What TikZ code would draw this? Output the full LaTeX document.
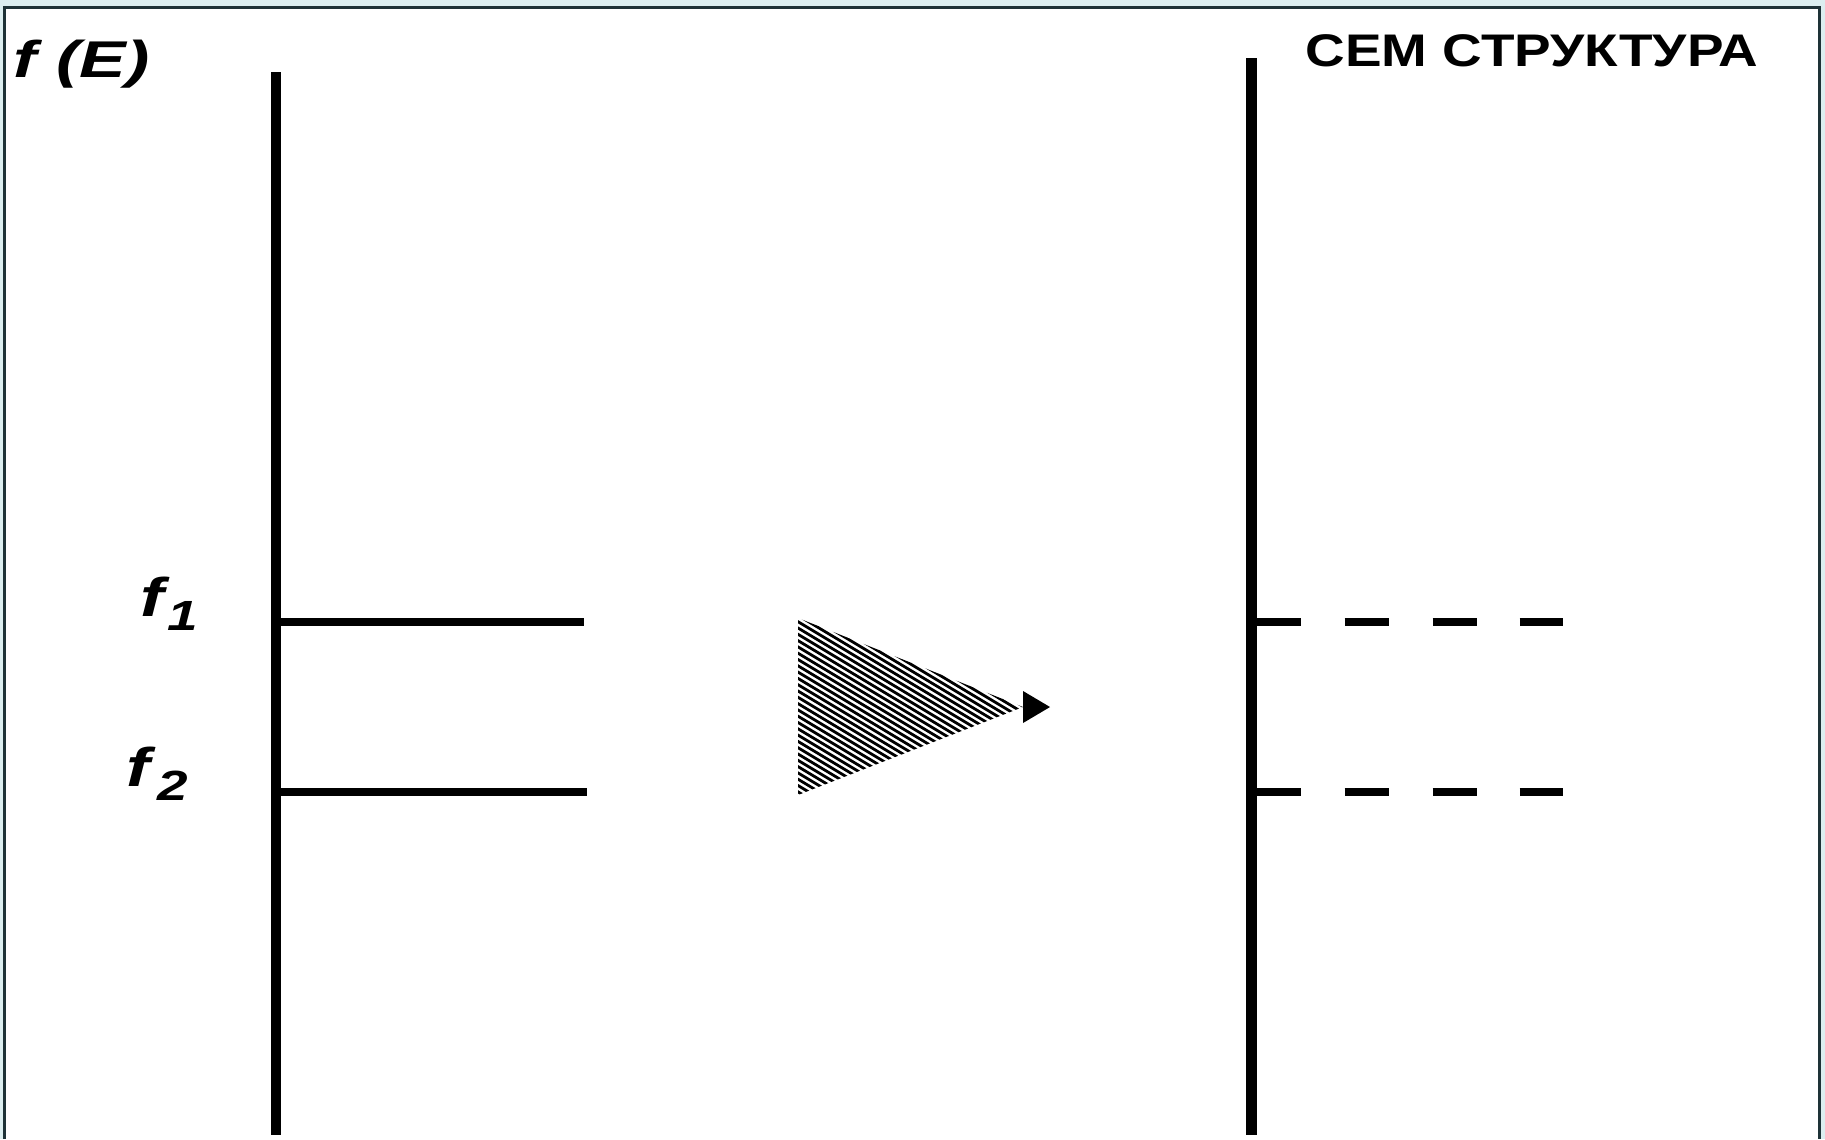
\documentclass[tikz,border=0pt]{standalone}
\usepackage{fontspec}
\setmainfont{Liberation Sans}
\usepackage{graphicx}
\definecolor{bgcyan}{RGB}{220,238,240}
\definecolor{framec}{RGB}{30,50,55}
\begin{document}
\begin{tikzpicture}[x=0.01cm,y=-0.01cm,
  axisline/.style={line width=2.9pt, black},
  levelline/.style={line width=2.3pt, black},
  dashlevel/.style={line width=2.3pt, black,
    dash pattern=on 13.94pt off 12.52pt on 12.52pt off 12.52pt on 12.52pt off 12.23pt on 12.8pt off 50pt},
  hatchline/.style={line width=0.8pt, black},
  labtext/.style={anchor=base west, inner sep=0pt, font=\bfseries\itshape\fontsize{15.5}{16}\selectfont},
  titletext/.style={anchor=base west, inner sep=0pt, font=\bfseries\fontsize{13}{14}\selectfont}]
\useasboundingbox (0,0) rectangle (1825,1139);
% background and frame
\fill[bgcyan] (0,0) rectangle (1825,1139);
\fill[white] (4,7) rectangle (1820,1139);
\draw[framec, line width=0.6pt] (4.5,1139) -- (4.5,7.5) -- (1819.5,7.5) -- (1819.5,1139);
% coordinates
\coordinate (Ltop) at (276,72);
\coordinate (Lbot) at (276,1135);
\coordinate (Rtop) at (1251.5,58);
\coordinate (Rbot) at (1251.5,1135);
\coordinate (A1) at (276,622);
\coordinate (A1e) at (584,622);
\coordinate (A2) at (276,792);
\coordinate (A2e) at (587,792);
\coordinate (B1) at (1251.5,622);
\coordinate (B1e) at (1563,622);
\coordinate (B2) at (1251.5,792);
\coordinate (B2e) at (1563,792);
\coordinate (T1) at (798,618);
\coordinate (T2) at (1023,707);
\coordinate (T3) at (798,795);
% axes
\draw[axisline] (Ltop) -- (Lbot);
\draw[axisline] (Rtop) -- (Rbot);
% levels
\draw[levelline] (A1) -- (A1e);
\draw[levelline] (A2) -- (A2e);
\draw[dashlevel] (B1) -- (B1e);
\draw[dashlevel] (B2) -- (B2e);
% hatched triangle
\begin{scope}
\clip (T1) -- (T2) -- (T3) -- cycle;
\foreach \k in {0,...,46}
  \draw[hatchline] (790,{535+\k*6.3}) -- (1030,{535+\k*6.3+240*0.6});
\end{scope}
\fill[black] (1023,691) -- (1050,707) -- (1023,723) -- cycle;
% texts
\node[labtext, font=\bfseries\itshape\fontsize{14.7}{15}\selectfont] (fE) at (13,77) {\scalebox{1.35}[1]{f (E)}};
\node[titletext] (sem) at (1305,66) {\scalebox{1.2}[1]{СЕМ СТРУКТУРА}};
\node[labtext] (f1) at (140,616) {\scalebox{1.3}[1]{f}\kern1pt\raisebox{-4pt}{\fontsize{12}{12}\selectfont\scalebox{1.3}[1]{1}}};
\node[labtext] (f2) at (126,786) {\scalebox{1.3}[1]{f}\kern2pt\raisebox{-4pt}{\fontsize{12}{12}\selectfont\scalebox{1.3}[1]{2}}};
\end{tikzpicture}
\end{document}
